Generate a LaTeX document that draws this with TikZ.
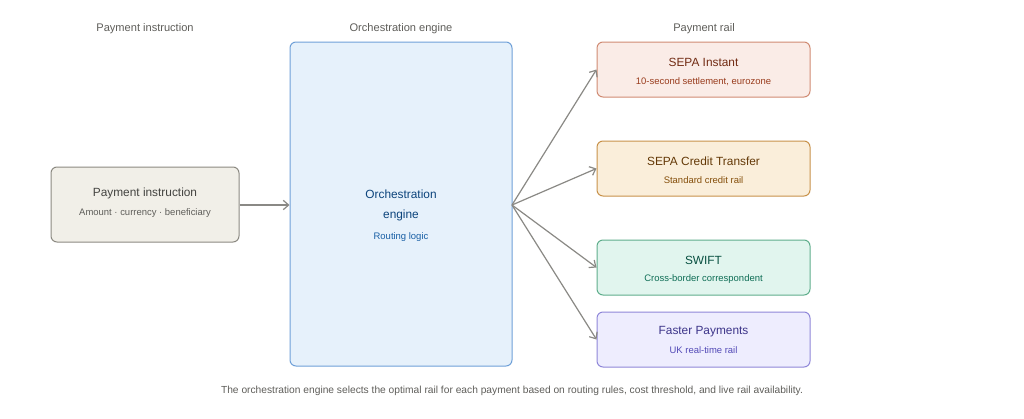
\documentclass[tikz,border=0pt]{standalone}
\usepackage{fontspec}
\setmainfont{Liberation Sans}
\usetikzlibrary{arrows.meta}
\definecolor{gbF}{HTML}{F1EFE8}\definecolor{gbD}{HTML}{8C8A82}\definecolor{gbT}{HTML}{444441}\definecolor{gbS}{HTML}{5F5E5A}
\definecolor{blF}{HTML}{E6F1FB}\definecolor{blD}{HTML}{6FA0D8}\definecolor{blT}{HTML}{0C447C}\definecolor{blS}{HTML}{185FA5}
\definecolor{coF}{HTML}{FAECE7}\definecolor{coD}{HTML}{D08B73}\definecolor{coT}{HTML}{712B13}\definecolor{coS}{HTML}{993C1D}
\definecolor{amF}{HTML}{FAEEDA}\definecolor{amD}{HTML}{C8924A}\definecolor{amT}{HTML}{633806}\definecolor{amS}{HTML}{854F0B}
\definecolor{teF}{HTML}{E1F5EE}\definecolor{teD}{HTML}{5FAE8C}\definecolor{teT}{HTML}{085041}\definecolor{teS}{HTML}{0F6E56}
\definecolor{puF}{HTML}{EEEDFE}\definecolor{puD}{HTML}{8F87D9}\definecolor{puT}{HTML}{3C3489}\definecolor{puS}{HTML}{534AB7}
\definecolor{arr}{HTML}{8A8985}\definecolor{hdr}{HTML}{5F5E5A}
\begin{document}
\begin{tikzpicture}[x=0.75pt,y=-0.75pt,
  box/.style={draw, rounded corners=4.5pt, line width=0.75pt, inner sep=0pt},
  ttl/.style={font=\fontsize{8.9}{11}\selectfont, inner sep=0pt, anchor=center},
  sub/.style={font=\fontsize{7.1}{9}\selectfont, inner sep=0pt, anchor=center},
  hd/.style={font=\fontsize{8.3}{10}\selectfont, text=hdr, inner sep=0pt, anchor=center},
  conn/.style={draw=arr, line width=0.9pt, -{Straight Barb[length=4pt,width=7pt,line width=0.9pt]}}]
\useasboundingbox (0,0) rectangle (1024,418);
\fill[white] (0,0) rectangle (1024,418);
% headers
\node[hd] (h1) at (145,28.5) {Payment instruction};
\node[hd] (h2) at (401,28.5) {Orchestration engine};
\node[hd] (h3) at (704,28.5) {Payment rail};
% boxes
\node[box, fill=gbF, draw=gbD, minimum width=141pt, minimum height=56.25pt] (pi) at (145,204.5) {};
\node[ttl, text=gbT] (piT) at (145,193.5) {Payment instruction};
\node[sub, text=gbS] (piS) at (145,213.5) {Amount · currency · beneficiary};

\node[box, fill=blF, draw=blD, minimum width=166.5pt, minimum height=243pt] (oe) at (401,204) {};
\node[ttl, text=blT] (oeT1) at (401,194.5) {Orchestration};
\node[ttl, text=blT] (oeT2) at (401,215.5) {engine};
\node[sub, text=blS] (oeS) at (401,237.5) {Routing logic};

\node[box, fill=coF, draw=coD, minimum width=159.75pt, minimum height=41.25pt] (si) at (703.5,69.5) {};
\node[ttl, text=coT] (siT) at (703.5,62.5) {SEPA Instant};
\node[sub, text=coS] (siS) at (703.5,81.5) {10-second settlement, eurozone};

\node[box, fill=amF, draw=amD, minimum width=159.75pt, minimum height=41.25pt] (sc) at (703.5,168.5) {};
\node[ttl, text=amT] (scT) at (703.5,161.5) {SEPA Credit Transfer};
\node[sub, text=amS] (scS) at (703.5,180.5) {Standard credit rail};

\node[box, fill=teF, draw=teD, minimum width=159.75pt, minimum height=41.25pt] (sw) at (703.5,267.5) {};
\node[ttl, text=teT] (swT) at (703.5,260.5) {SWIFT};
\node[sub, text=teS] (swS) at (703.5,279.5) {Cross-border correspondent};

\node[box, fill=puF, draw=puD, minimum width=159.75pt, minimum height=41.25pt] (fp) at (703.5,339.5) {};
\node[ttl, text=puT] (fpT) at (703.5,331.5) {Faster Payments};
\node[sub, text=puS] (fpS) at (703.5,350.5) {UK real-time rail};

% connectors
\coordinate (oeOut) at (512,205);
\draw[conn] (pi.east |- 0,205) -- (oe.west |- 0,205);
\draw[conn] (oeOut) -- (si.west);
\draw[conn] (oeOut) -- (sc.west);
\draw[conn] (oeOut) -- (sw.west);
\draw[conn] (oeOut) -- (fp.west);

\node[hd, font=\fontsize{7.67}{9}\selectfont] (cap) at (512,390.5) {The orchestration engine selects the optimal rail for each payment based on routing rules, cost threshold, and live rail availability.};
\end{tikzpicture}
\end{document}
